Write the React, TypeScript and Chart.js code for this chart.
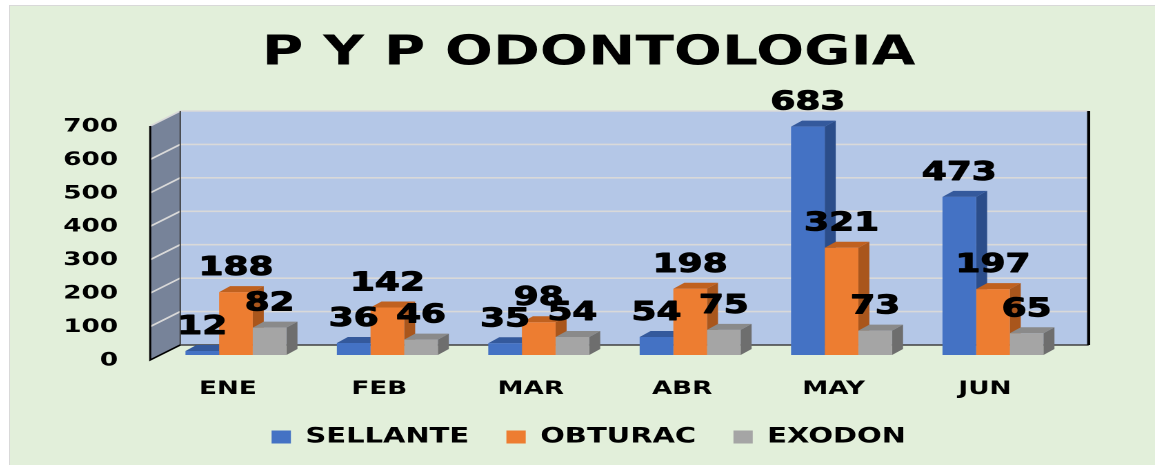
import React, { useEffect, useRef } from 'react';
import { Chart, registerables } from 'chart.js';

Chart.register(...registerables);

// ---- data ----
const months = ['ENE', 'FEB', 'MAR', 'ABR', 'MAY', 'JUN'];
const seriesNames = ['SELLANTE', 'OBTURAC', 'EXODON'];
const sellante = [12, 36, 35, 54, 683, 473];
const obturac = [188, 142, 98, 198, 321, 197];
const exodon = [82, 46, 54, 75, 73, 65];
const yMin = 0;
const yMax = 700;
const yStep = 100;
const chartTitle = 'P Y P ODONTOLOGIA';

// ---- styling ----
const FONT = '"DejaVu Sans", "Liberation Sans", sans-serif';
const frontColors = ['#4472C4', '#ED7D31', '#A5A5A5'];
const sideColors = ['#2B4D8A', '#A9561C', '#6E6E6E'];
const topColors = ['#34599C', '#C0611F', '#8A8A8A'];

const CW = 830;
const CH = 459;
const DW = 1145;
const S = DW / CW;

// 3D offsets in canvas units
const FDX = -10 / S, FDY = 5;   // front plane
const BDX = 20 / S, BDY = -10;  // back wall
const DDX = 11 / S, DDY = -6;   // bar depth

const threeD = {
  id: 'threeD',
  beforeDatasetsDraw(chart: any) {
    const { ctx, chartArea: ca, scales } = chart;
    const ys = scales.y;
    const y0 = ys.getPixelForValue(yMin);
    const y1 = ys.getPixelForValue(yMax);
    ctx.save();
    // left side wall
    ctx.fillStyle = '#778399';
    ctx.beginPath();
    ctx.moveTo(ca.left + FDX, y0 + FDY);
    ctx.lineTo(ca.left + FDX, y1 + FDY);
    ctx.lineTo(ca.left + BDX, y1 + BDY);
    ctx.lineTo(ca.left + BDX, y0 + BDY);
    ctx.closePath();
    ctx.fill();
    // back wall
    ctx.fillStyle = '#B4C7E7';
    ctx.fillRect(ca.left + BDX, y1 + BDY, ca.right - ca.left, y0 - y1);
    // grid lines
    ctx.strokeStyle = '#D9D9D9';
    ctx.lineWidth = 1.6;
    ys.ticks.forEach((t: any) => {
      if (t.value === yMin) return;
      const p = ys.getPixelForValue(t.value);
      ctx.beginPath();
      ctx.moveTo(ca.left + FDX, p + FDY);
      ctx.lineTo(ca.left + BDX, p + BDY);
      ctx.lineTo(ca.right + BDX, p + BDY);
      ctx.stroke();
    });
    // edges
    ctx.strokeStyle = '#3A3A3A';
    ctx.lineWidth = 1;
    ctx.beginPath();
    ctx.moveTo(ca.left + BDX, y1 + BDY);
    ctx.lineTo(ca.left + BDX, y0 + BDY);
    ctx.stroke();
    ctx.strokeStyle = '#404040';
    ctx.lineWidth = 1.6;
    ctx.beginPath();
    ctx.moveTo(ca.left + BDX, y0 + BDY);
    ctx.lineTo(ca.right + BDX, y0 + BDY);
    ctx.stroke();
    ctx.strokeStyle = '#000';
    ctx.lineWidth = 1.5;
    ctx.beginPath();
    ctx.moveTo(ca.left + FDX, y1 + FDY);
    ctx.lineTo(ca.left + FDX, y0 + FDY);
    ctx.lineTo(ca.left + BDX, y0 + BDY);
    ctx.stroke();
    ctx.lineWidth = 2.2;
    ctx.beginPath();
    ctx.moveTo(ca.right + BDX, y1 + BDY);
    ctx.lineTo(ca.right + BDX, y0 + BDY);
    ctx.stroke();
    // bar sides and tops (behind all front faces)
    chart.data.datasets.forEach((ds: any, di: number) => {
      const meta = chart.getDatasetMeta(di);
      meta.data.forEach((el: any) => {
        const { x, y, base, width } = el.getProps(['x', 'y', 'base', 'width'], true);
        const l = x - width / 2;
        const r = x + width / 2;
        ctx.fillStyle = sideColors[di];
        ctx.beginPath();
        ctx.moveTo(r, y);
        ctx.lineTo(r + DDX, y + DDY);
        ctx.lineTo(r + DDX, base + DDY);
        ctx.lineTo(r, base);
        ctx.closePath();
        ctx.fill();
        ctx.fillStyle = topColors[di];
        ctx.beginPath();
        ctx.moveTo(l, y);
        ctx.lineTo(l + DDX, y + DDY);
        ctx.lineTo(r + DDX, y + DDY);
        ctx.lineTo(r, y);
        ctx.closePath();
        ctx.fill();
      });
    });
    ctx.restore();
  },
  afterDatasetsDraw(chart: any) {
    const { ctx } = chart;
    ctx.save();
    ctx.font = `bold 26px ${FONT}`;
    ctx.fillStyle = '#000';
    ctx.strokeStyle = '#000';
    ctx.lineWidth = 1;
    ctx.lineJoin = 'round';
    ctx.textAlign = 'center';
    ctx.textBaseline = 'alphabetic';
    chart.data.datasets.forEach((ds: any, di: number) => {
      chart.getDatasetMeta(di).data.forEach((el: any, i: number) => {
        const txt = String(ds.data[i]);
        ctx.fillText(txt, el.x, el.y - 17);
        ctx.strokeText(txt, el.x, el.y - 17);
      });
    });
    ctx.restore();
  },
};

export default function App() {
  const ref = useRef<HTMLCanvasElement>(null);
  useEffect(() => {
    const seriesValues = [sellante, obturac, exodon];
    const chart = new Chart(ref.current as HTMLCanvasElement, {
      type: 'bar',
      data: {
        labels: months,
        datasets: seriesNames.map((name, i) => ({
          label: name,
          data: seriesValues[i],
          backgroundColor: frontColors[i],
          borderWidth: 0,
          categoryPercentage: 0.667,
          barPercentage: 1,
        })),
      },
      options: {
        responsive: false,
        animation: false,
        devicePixelRatio: 2,
        layout: { padding: { left: 9, right: 0, top: 0, bottom: 7.5 } },
        plugins: {
          title: {
            display: true,
            text: chartTitle,
            color: '#000',
            font: { family: FONT, size: 41, weight: 'bold', lineHeight: 1.2 },
            padding: { top: 23.4, bottom: 42.4 },
          },
          legend: {
            position: 'bottom',
            labels: {
              color: '#000',
              font: { family: FONT, size: 21, weight: 'bold' },
              boxWidth: 14,
              boxHeight: 13,
              padding: 27,
            },
          },
          tooltip: { enabled: false },
        },
        scales: {
          x: {
            grid: { display: false, drawTicks: false },
            border: { display: false },
            ticks: {
              color: '#000',
              font: { family: FONT, size: 19, weight: 'bold' },
              padding: 22.6,
              labelOffset: -5.8,
              maxRotation: 0,
              autoSkip: false,
            },
            afterFit: (s: any) => { s.height = 44.5; },
          },
          y: {
            min: yMin,
            max: yMax,
            grid: { display: false, drawTicks: false },
            border: { display: false },
            ticks: {
              stepSize: yStep,
              color: '#000',
              font: { family: FONT, size: 19, weight: 'bold' },
              padding: 30.6,
              labelOffset: 5.5,
            },
            afterFit: (s: any) => { s.width = 99.9; },
          },
          yR: {
            position: 'right',
            grid: { display: false, drawTicks: false },
            border: { display: false },
            ticks: { display: false },
            afterFit: (s: any) => { s.width = 62.6; },
          },
        },
      } as any,
      plugins: [threeD],
    });
    return () => chart.destroy();
  }, []);
  return (
    <div
      style={{
        position: 'fixed',
        left: 9,
        top: 5,
        width: 1146,
        height: 460,
        boxSizing: 'border-box',
        borderLeft: '1px solid #D9D9D9',
        borderTop: '1px solid #D9D9D9',
        background: '#E2EFDA',
        overflow: 'hidden',
      }}
    >
      <canvas
        ref={ref}
        width={CW}
        height={CH}
        style={{ width: `${DW}px`, height: `${CH}px`, display: 'block' }}
      />
    </div>
  );
}
